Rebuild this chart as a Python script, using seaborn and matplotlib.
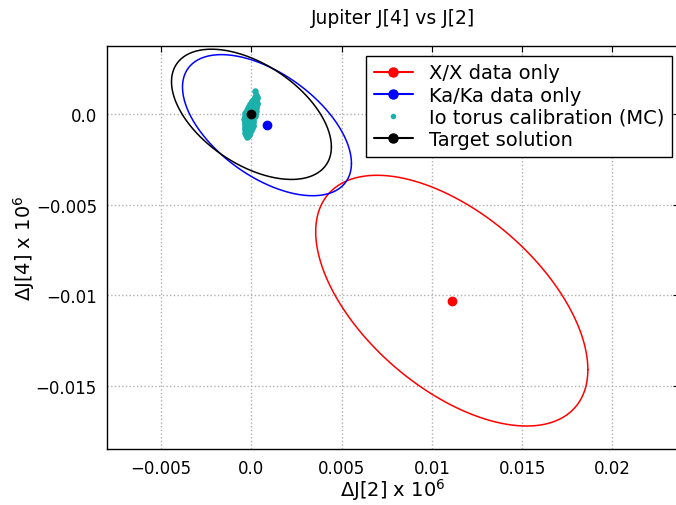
import numpy as np
import pandas as pd
import matplotlib
matplotlib.use("Agg")
import matplotlib.pyplot as plt
from matplotlib.lines import Line2D
import seaborn as sns

# Covariance ellipses: centre, sigma in J2, sigma in J4, correlation
ell_names = ["X/X data only", "Ka/Ka data only", "Target solution"]
ell_colors = ["red", "blue", "black"]
ell_cx = [0.0111, 0.00086, 0.0]
ell_cy = [-0.0103, -0.0006, 0.0]
ell_sx = [0.00754, 0.00468, 0.00443]
ell_sy = [0.00693, 0.0039, 0.0036]
ell_rho = [-0.55, -0.54, -0.50]

# Io torus Monte Carlo solutions (units of 1e-3)
mc_j2 = [0.22, 0.25, 0.17, 0.29, 0.13, 0.23, 0.31, 0.05, 0.17, 0.27,
         0.01, 0.11, 0.21, 0.29, -0.09, 0.04, 0.15, 0.24, 0.31,
         -0.13, -0.02, 0.09, 0.19, 0.28, -0.18, -0.06, 0.05, 0.14, 0.25,
         -0.25, -0.12, 0.01, 0.10, 0.20, 0.27, -0.29, -0.16, -0.04, 0.08, 0.18,
         -0.33, -0.21, -0.08, 0.05, 0.14, 0.21, -0.35, -0.23, -0.10, 0.03, 0.12,
         -0.37, -0.26, -0.14, -0.02, 0.10, 0.17, -0.39, -0.27, -0.15, -0.03, 0.08,
         -0.36, -0.24, -0.12, 0.00, 0.11, -0.38, -0.28, -0.16, -0.04, 0.08,
         -0.36, -0.25, -0.12, 0.01, 0.10, -0.38, -0.26, -0.14, -0.02, 0.06,
         -0.34, -0.22, -0.10, 0.02, -0.36, -0.24, -0.12, -0.02,
         -0.32, -0.20, -0.08, -0.34, -0.22, -0.12, -0.28, -0.16, -0.22]
mc_j4 = [1.30, 1.08, 0.97, 0.93, 0.86, 0.83, 0.88, 0.76, 0.73, 0.78,
         0.66, 0.63, 0.68, 0.62, 0.56, 0.53, 0.57, 0.52, 0.55,
         0.46, 0.43, 0.47, 0.44, 0.41, 0.36, 0.33, 0.37, 0.31, 0.35,
         0.26, 0.23, 0.27, 0.22, 0.25, 0.19, 0.15, 0.12, 0.17, 0.13, 0.10,
         0.05, 0.03, 0.07, 0.02, 0.06, 0.01, -0.05, -0.08, -0.04, -0.07, -0.03,
         -0.15, -0.12, -0.17, -0.13, -0.16, -0.11, -0.25, -0.28, -0.23, -0.27, -0.24,
         -0.35, -0.33, -0.37, -0.34, -0.38, -0.45, -0.48, -0.43, -0.47, -0.44,
         -0.55, -0.53, -0.57, -0.54, -0.58, -0.65, -0.68, -0.63, -0.67, -0.64,
         -0.75, -0.73, -0.77, -0.74, -0.85, -0.88, -0.83, -0.86,
         -0.95, -0.93, -0.97, -1.05, -1.08, -1.03, -1.15, -1.13, -1.25]

mc = pd.DataFrame({"j2": np.array(mc_j2) * 1e-3, "j4": np.array(mc_j4) * 1e-3})

xticks = [-0.005, 0.0, 0.005, 0.01, 0.015, 0.02]
xticklabels = ["\u22120.005", "0.0", "0.005", "0.01", "0.015", "0.02"]
yticks = [0.0, -0.005, -0.01, -0.015]
yticklabels = ["0.0", "\u22120.005", "\u22120.01", "\u22120.015"]

sns.set_style("white")
plt.rcParams["font.family"] = ["DejaVu Sans"]
plt.rcParams["font.size"] = 12
for key in ["text.color", "axes.labelcolor", "xtick.color", "ytick.color"]:
    plt.rcParams[key] = "black"

fig = plt.figure(figsize=(6.76, 5.06), dpi=100)
# axes runs slightly past the right edge of the figure, as in the original
ax = fig.add_axes([106.7 / 676, 56 / 506, 572.3 / 676, 402.7 / 506])

ax.grid(True, color="#b0b0b0", linestyle=":", linewidth=1)
ax.set_axisbelow(True)

t = np.linspace(0, 2 * np.pi, 300)
for i in range(len(ell_names)):
    ex = ell_cx[i] + ell_sx[i] * np.cos(t)
    ey = ell_cy[i] + ell_sy[i] * (ell_rho[i] * np.cos(t) + np.sqrt(1 - ell_rho[i] ** 2) * np.sin(t))
    sns.lineplot(x=ex, y=ey, sort=False, estimator=None, color=ell_colors[i], lw=1.1, ax=ax)

sns.scatterplot(data=mc, x="j2", y="j4", color="#1cb0aa", s=22, linewidth=0, ax=ax, zorder=3)
for i in [0, 1]:
    ax.plot(ell_cx[i], ell_cy[i], "o", color=ell_colors[i], mec=ell_colors[i], ms=6, zorder=4)
ax.plot(ell_cx[2], ell_cy[2], "o", color="black", ms=6, zorder=5)

ax.set_xlim(-0.00802, 0.02369)
ax.set_ylim(-0.0185, 0.00376)
ax.set_xticks(xticks)
ax.set_xticklabels(xticklabels)
ax.set_yticks(yticks)
ax.set_yticklabels(yticklabels)
ax.tick_params(direction="in", top=True, right=True, length=4, labelsize=12, pad=7,
               colors="black")
for s in ax.spines.values():
    s.set_color("black")
    s.set_linewidth(1)

ax.set_xlabel(r"$\Delta$J[2] x 10$^6$", fontsize=14, color="black")
ax.set_ylabel(r"$\Delta$J[4] x 10$^6$", fontsize=14, color="black")
ax.xaxis.set_label_coords(0.5, -0.068)
ax.yaxis.set_label_coords(-0.122, 0.5)
ax.set_title("Jupiter J[4] vs J[2]", fontsize=13.5, pad=17, color="black")

handles = [
    Line2D([], [], color="red", marker="o", ms=6.5),
    Line2D([], [], color="blue", marker="o", ms=6.5),
    Line2D([], [], color="#1cb0aa", marker="o", ms=3, lw=0),
    Line2D([], [], color="black", marker="o", ms=6.5),
]
labels = ["X/X data only", "Ka/Ka data only", "Io torus calibration (MC)", "Target solution"]
leg = ax.legend(handles, labels, loc="upper right", bbox_to_anchor=(0.988, 0.977),
                fontsize=14, fancybox=False, framealpha=1, edgecolor="black",
                labelspacing=0.17, borderpad=0.4, handlelength=2.05, handletextpad=0.8,
                borderaxespad=0, numpoints=1)
leg.get_frame().set_linewidth(1)
for txt in leg.get_texts():
    txt.set_color("black")

fig.savefig("out.png", dpi=100)
